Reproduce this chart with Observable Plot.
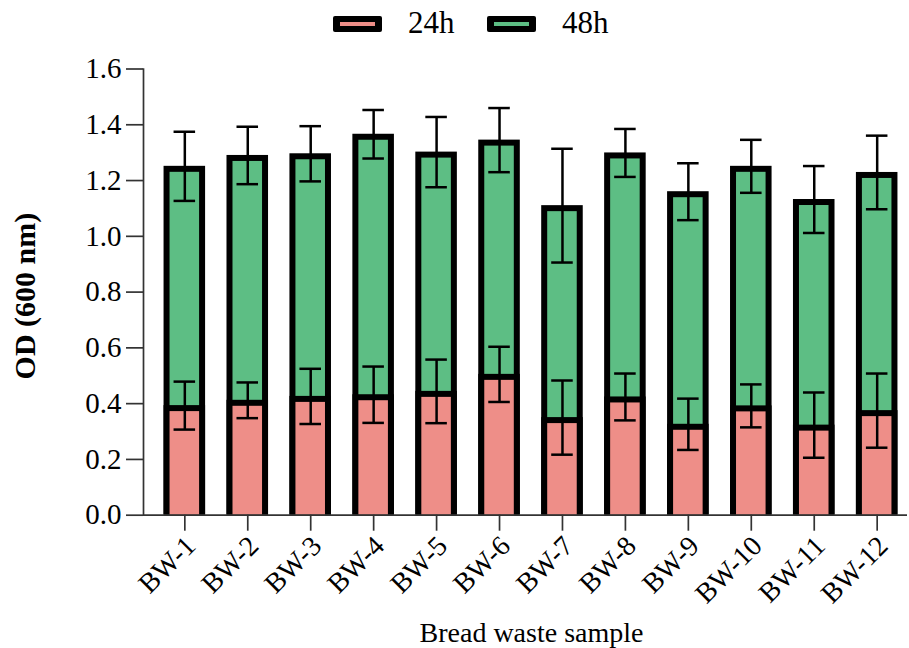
<!DOCTYPE html>
<html><head><meta charset="utf-8">
<script src="https://cdn.jsdelivr.net/npm/d3@7"></script>
<script src="https://cdn.jsdelivr.net/npm/@observablehq/plot@0.6"></script>
<style>
body{margin:0;background:#fff;font-family:"Liberation Serif",serif;}
#legend{position:relative;width:909px;height:48px;}
.sw{position:absolute;top:16px;}
.lt{position:absolute;top:5px;font-size:31px;line-height:36px;color:#000;}
</style></head><body>
<div id="legend"></div>
<div id="chart"></div>
<script>
const samples = ["BW-1","BW-2","BW-3","BW-4","BW-5","BW-6","BW-7","BW-8","BW-9","BW-10","BW-11","BW-12"];
const od24 = [0.393,0.412,0.426,0.432,0.444,0.505,0.350,0.424,0.326,0.392,0.323,0.375];
const sd24 = [0.086,0.064,0.099,0.101,0.114,0.099,0.133,0.084,0.092,0.077,0.117,0.133];
const od48 = [1.251,1.290,1.296,1.366,1.302,1.345,1.110,1.299,1.160,1.251,1.132,1.229];
const sd48 = [0.124,0.103,0.099,0.087,0.126,0.115,0.204,0.086,0.102,0.095,0.120,0.132];
const seriesNames = ["24h","48h"];
const seriesColors = ["#EE8E88","#5DBE84"];
const yTicks = [0,0.2,0.4,0.6,0.8,1.0,1.2,1.4,1.6];

// legend
const legend = document.getElementById("legend");
const legendX = [[333,408],[487,562]];
seriesNames.forEach((name,i)=>{
  const s = document.createElementNS("http://www.w3.org/2000/svg","svg");
  s.setAttribute("class","sw"); s.setAttribute("width","49"); s.setAttribute("height","16");
  s.style.left = legendX[i][0]+"px";
  s.innerHTML = `<rect x="0" y="0" width="49" height="16" rx="2" fill="#000"/><rect x="7" y="6" width="35" height="4" fill="${seriesColors[i]}"/>`;
  legend.appendChild(s);
  const t = document.createElement("div");
  t.className = "lt"; t.textContent = name; t.style.left = legendX[i][1]+"px";
  legend.appendChild(t);
});

const d24 = samples.map((s,i)=>({sample:s, value:od24[i], sd:sd24[i]}));
const d48 = samples.map((s,i)=>({sample:s, value:od48[i], sd:sd48[i]}));

function barMarks(data, color){
  return [
    Plot.barY(data, {x:"sample", y:"value", fill:"#000"}),
    Plot.barY(data, {x:"sample", y:"value", fill:color, insetLeft:6, insetRight:6, insetTop:6}),
  ];
}
function errMarks(data){
  return [
    Plot.ruleX(data, {x:"sample", y1:d=>d.value-d.sd, y2:d=>d.value+d.sd, stroke:"#000", strokeWidth:2.5}),
    Plot.tickY(data, {x:"sample", y:d=>d.value+d.sd, stroke:"#000", strokeWidth:2.5, insetLeft:10, insetRight:10}),
    Plot.tickY(data, {x:"sample", y:d=>d.value-d.sd, stroke:"#000", strokeWidth:2.5, insetLeft:10, insetRight:10}),
  ];
}

const chart = Plot.plot({
  width: 909,
  height: 600,
  marginLeft: 143,
  marginRight: 2,
  marginTop: 20.5,
  marginBottom: 133.3,
  style: {fontFamily: "Liberation Serif", color: "#000", background: "#fff"},
  x: {domain: samples, range: [152.85, 908.15], paddingInner: 0.34, paddingOuter: 0.17, round: false, label: null},
  y: {domain: [0, 1.6], label: null},
  marks: [
    ...barMarks(d48, seriesColors[1]),
    ...errMarks(d48),
    ...barMarks(d24, seriesColors[0]),
    ...errMarks(d24),
    Plot.frame({anchor: "left", stroke: "#333", strokeWidth: 1.7}),
    Plot.ruleY([0], {stroke: "#333", strokeWidth: 1.7}),
    Plot.axisY({ticks: yTicks, tickFormat: d3.format(".1f"), tickSize: 17, tickPadding: 5, fontSize: 29, stroke: "#333", strokeWidth: 1.7, label: null}),
    Plot.axisX({tickSize: 16, tickFormat: () => "", stroke: "#333", strokeWidth: 1.7, label: null}),
    Plot.axisX({tickSize: 0, tickRotate: -45, tickPadding: 26, fontSize: 28, label: null, dx: 6}),
    Plot.text(["OD (600 nm)"], {frameAnchor: "left", dx: -118, dy: 4, rotate: -90, fontSize: 30, fontWeight: "bold", textAnchor: "middle", lineAnchor: "middle"}),
    Plot.text(["Bread waste sample"], {frameAnchor: "bottom", dx: 6, dy: 118, fontSize: 28, textAnchor: "middle", lineAnchor: "middle"})
  ]
});
document.getElementById("chart").appendChild(chart);
</script>
</body></html>
